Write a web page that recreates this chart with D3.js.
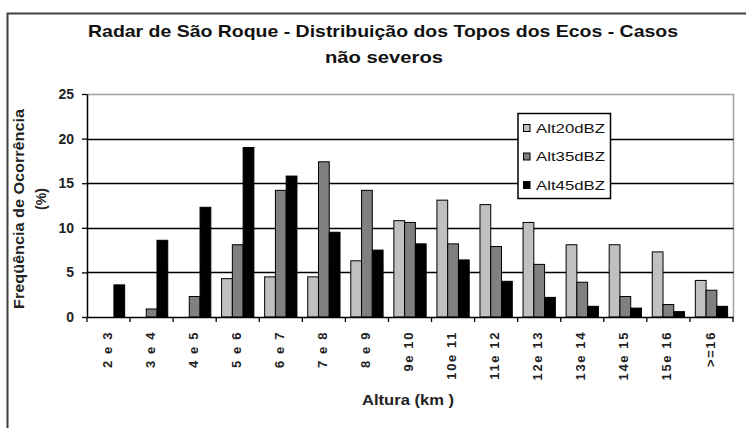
<!DOCTYPE html>
<html>
<head>
<meta charset="utf-8">
<script src="https://cdn.jsdelivr.net/npm/d3@7/dist/d3.min.js"></script>
<style>
  html, body { margin: 0; padding: 0; background: #fff; }
  svg { display: block; }
  text { font-family: "Liberation Sans", Arial, sans-serif; }
</style>
</head>
<body>
<svg id="chart" width="746" height="428"></svg>
<script>
// ---- data ----
const categories = ["2 e 3", "3 e 4", "4 e 5", "5 e 6", "6 e 7", "7 e 8", "8 e 9",
  "9e 10", "10e 11", "11e 12", "12e 13", "13e 14", "14e 15", "15e 16", ">=16"];
const seriesNames = ["Alt20dBZ", "Alt35dBZ", "Alt45dBZ"];
const alt20 = [0, 0, 0, 4.3, 4.5, 4.5, 6.3, 10.8, 13.1, 12.6, 10.6, 8.1, 8.1, 7.3, 4.1];
const alt35 = [0, 0.9, 2.3, 8.1, 14.2, 17.4, 14.2, 10.6, 8.2, 7.9, 5.9, 3.9, 2.3, 1.4, 3.0];
const alt45 = [3.6, 8.6, 12.3, 19.0, 15.8, 9.5, 7.5, 8.2, 6.4, 4.0, 2.2, 1.2, 1.0, 0.6, 1.2];
const yTicks = [0, 5, 10, 15, 20, 25];
const titleLines = ["Radar de  São Roque - Distribuição dos Topos dos Ecos - Casos", "não severos"];
const yTitle = ["Freqüência de Ocorrência", "(%)"];
const xTitle = "Altura (km )";

const seriesValues = [alt20, alt35, alt45];
const colors = ["#c0c0c0", "#808080", "#000000"];

// ---- layout ----
const svg = d3.select("#chart");
const plot = { left: 87, right: 733, top: 94, bottom: 317 };

// outer frame
svg.append("rect").attr("x", 7.5).attr("y", 13.5).attr("width", 780).attr("height", 440)
  .attr("fill", "#fff").attr("stroke", "#404040").attr("stroke-width", 2);

const x = d3.scaleBand().domain(categories).range([plot.left, plot.right]).padding(0);
const xs = d3.scaleBand().domain(seriesNames).range([0, x.bandwidth()]).paddingInner(0).paddingOuter(0.5);
const y = d3.scaleLinear().domain([0, 25]).range([plot.bottom, plot.top]);

// plot area border (gray top/right)
svg.append("path")
  .attr("d", `M${plot.left},${plot.top + 0.5}H${plot.right + 0.5}V${plot.bottom}`)
  .attr("fill", "none").attr("stroke", "#a0a0a0").attr("stroke-width", 1.5);

// gridlines
svg.append("g").selectAll("line").data(yTicks.filter(t => t > 0 && t < 25)).join("line")
  .attr("x1", plot.left).attr("x2", plot.right + 0.5)
  .attr("y1", d => Math.round(y(d)) + 0.5).attr("y2", d => Math.round(y(d)) + 0.5)
  .attr("stroke", "#000").attr("stroke-width", 1.3);

// bars
const rows = categories.map((c, i) => ({ c, vals: seriesNames.map((s, j) => ({ s, j, v: seriesValues[j][i] })) }));
svg.append("g").selectAll("g").data(rows).join("g")
  .attr("transform", d => `translate(${x(d.c)},0)`)
  .selectAll("rect").data(d => d.vals.filter(v => v.v > 0)).join("rect")
  .attr("x", d => xs(d.s))
  .attr("y", d => y(d.v))
  .attr("width", xs.bandwidth())
  .attr("height", d => y(0) - y(d.v))
  .attr("fill", d => colors[d.j])
  .attr("stroke", "#000").attr("stroke-width", 1);

// y axis
const yAxis = d3.axisLeft(y).tickValues(yTicks).tickSize(5).tickPadding(8).tickSizeOuter(0);
const gy = svg.append("g").attr("transform", `translate(${plot.left},0)`).call(yAxis);
gy.select(".domain").attr("stroke", "#000").attr("stroke-width", 1.5);
gy.selectAll(".tick line").attr("stroke", "#000").attr("stroke-width", 1.3);
gy.selectAll(".tick text").attr("font-size", 14).attr("fill", "#222").attr("font-weight", "bold")
  .attr("font-family", "'Liberation Sans', Arial, sans-serif");

// x axis
const xAxis = d3.axisBottom(x).tickSize(0).tickFormat("");
const gx = svg.append("g").attr("transform", `translate(0,${plot.bottom})`).call(xAxis);
gx.select(".domain").attr("stroke", "#000").attr("stroke-width", 1.5);
// tick marks at category boundaries
const bounds = categories.map(c => x(c)).concat([plot.right]);
gx.append("g").selectAll("line").data(bounds).join("line")
  .attr("x1", d => d).attr("x2", d => d).attr("y1", 0).attr("y2", 5)
  .attr("stroke", "#000").attr("stroke-width", 1.3);
// rotated labels
gx.append("g").selectAll("text").data(categories).join("text")
  .attr("transform", d => `translate(${x(d) + x.bandwidth() / 2 - 1.5},${14}) rotate(-90)`)
  .attr("text-anchor", "end")
  .attr("dy", "0.35em")
  .attr("font-size", 13)
  .attr("font-weight", "bold")
  .attr("letter-spacing", 1.6)
  .attr("fill", "#222")
  .text(d => d);

// x title
svg.append("text").attr("x", 408).attr("y", 405).attr("text-anchor", "middle")
  .attr("font-size", 14).attr("font-weight", "bold").attr("fill", "#222")
  .attr("textLength", 92).attr("lengthAdjust", "spacingAndGlyphs")
  .text(xTitle);

// y title
svg.append("text").attr("transform", "translate(24,209) rotate(-90)").attr("text-anchor", "middle")
  .attr("font-size", 14).attr("font-weight", "bold").attr("fill", "#222")
  .attr("textLength", 200).attr("lengthAdjust", "spacingAndGlyphs")
  .text(yTitle[0]);
svg.append("text").attr("transform", "translate(46,199) rotate(-90)").attr("text-anchor", "middle")
  .attr("font-size", 14).attr("font-weight", "bold").attr("fill", "#222")
  .text(yTitle[1]);

// title
svg.append("text").attr("x", 383).attr("y", 36.5).attr("text-anchor", "middle")
  .attr("font-size", 17).attr("font-weight", "bold").attr("fill", "#111")
  .attr("textLength", 590).attr("lengthAdjust", "spacingAndGlyphs")
  .text(titleLines[0]);
svg.append("text").attr("x", 384).attr("y", 63).attr("text-anchor", "middle")
  .attr("font-size", 17).attr("font-weight", "bold").attr("fill", "#111")
  .attr("textLength", 118).attr("lengthAdjust", "spacingAndGlyphs")
  .text(titleLines[1]);

// legend
const lg = svg.append("g").attr("transform", "translate(518,113.5)");
lg.append("rect").attr("x", 0).attr("y", 0).attr("width", 92.5).attr("height", 85)
  .attr("fill", "#fff").attr("stroke", "#000").attr("stroke-width", 1.5);
const le = lg.selectAll("g.e").data(seriesNames).join("g").attr("class", "e")
  .attr("transform", (d, i) => `translate(0,${14.5 + i * 28.5})`);
le.append("rect").attr("x", 5.5).attr("y", -3.5).attr("width", 6.5).attr("height", 7)
  .attr("fill", (d, i) => colors[i]).attr("stroke", "#000").attr("stroke-width", 1);
le.append("text").attr("x", 18).attr("dy", "0.36em").attr("font-size", 13).attr("fill", "#111")
  .attr("textLength", 69).attr("lengthAdjust", "spacingAndGlyphs")
  .text(d => d);
</script>
</body>
</html>
